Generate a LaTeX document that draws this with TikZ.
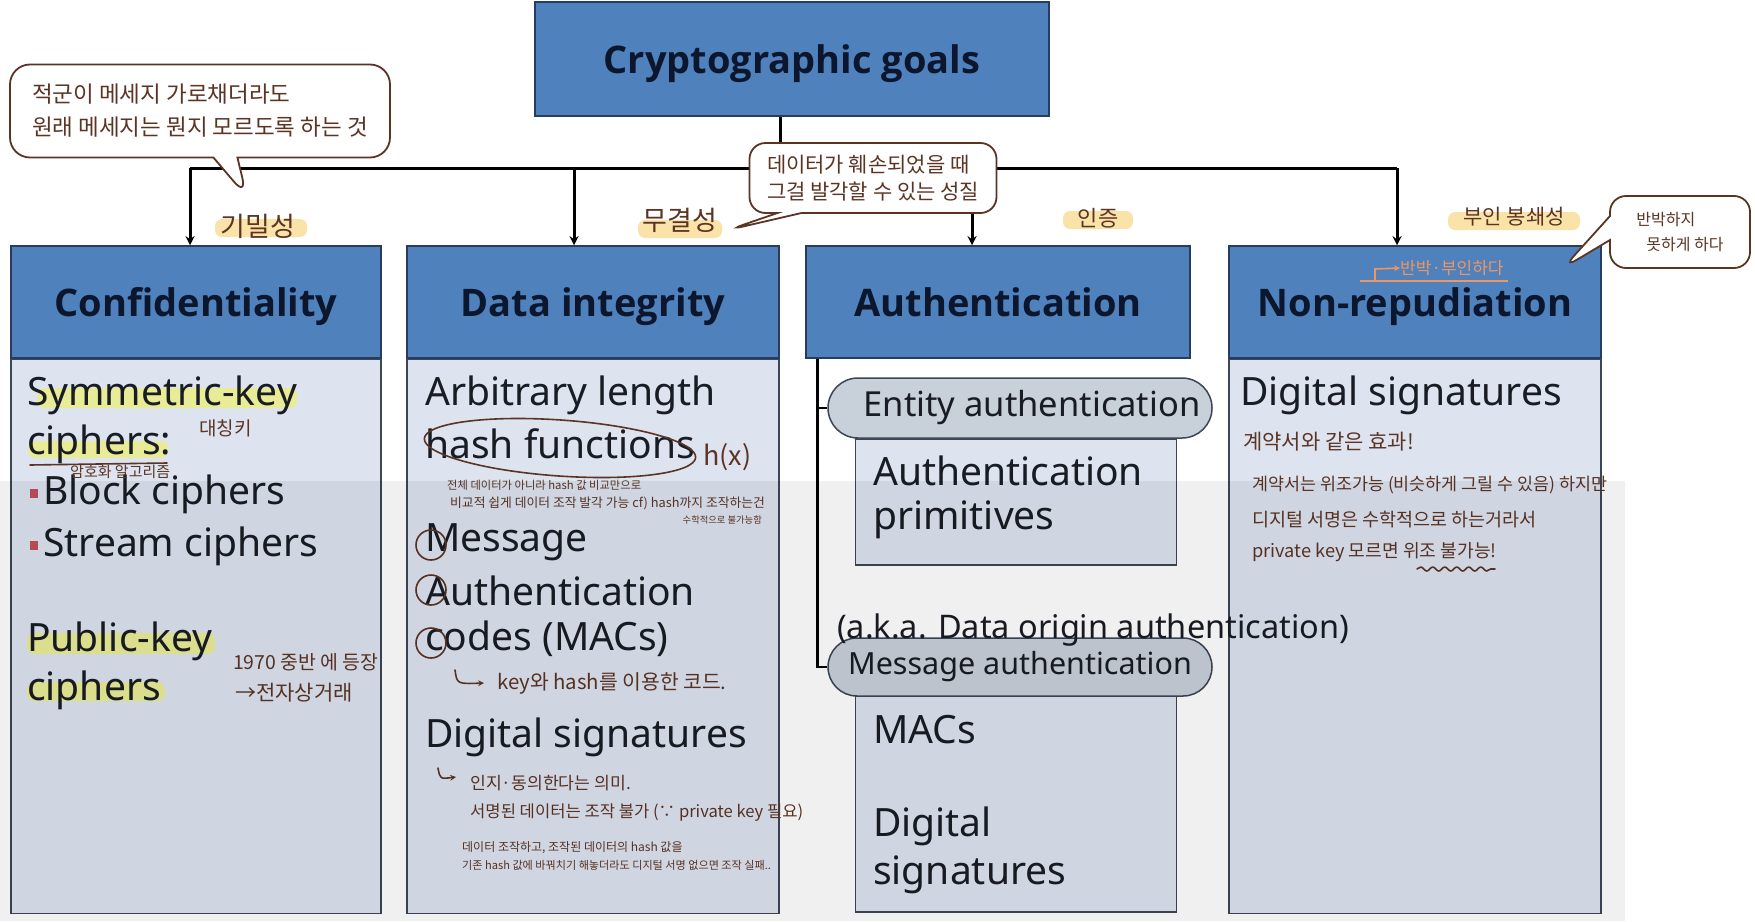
\documentclass[tikz,border=0pt]{standalone}
\usepackage{fontspec}
\setmainfont{Noto Sans}
\newfontfamily\hdrfont{Open Sans}
\newfontfamily\kr{Noto Sans CJK KR}
\usepackage{tikz}
\usetikzlibrary{calc,positioning,shapes.misc,shapes.callouts,decorations.pathmorphing}
\definecolor{hdrblue}{RGB}{79,129,189}
\definecolor{hdrline}{RGB}{40,60,95}
\definecolor{bodyblue}{RGB}{221,228,240}
\definecolor{boxline}{RGB}{60,70,85}
\definecolor{pillgray}{RGB}{200,208,218}
\definecolor{navytext}{RGB}{12,22,45}
\definecolor{bodytext}{RGB}{25,28,35}
\definecolor{inkbrown}{RGB}{92,52,36}
\definecolor{hlyellow}{RGB}{236,240,120}
\definecolor{hlorange}{RGB}{247,218,140}
\definecolor{penorange}{RGB}{236,150,100}
\definecolor{bulletred}{RGB}{192,80,90}

\begin{document}
\begin{tikzpicture}[x=1pt,y=-1pt,>=stealth,
    hdr/.style={draw=hdrline, line width=1.5pt, fill=hdrblue, text=navytext, inner sep=0pt, text height=32pt, text depth=4pt, font=\hdrfont\fontsize{38}{44}\selectfont\bfseries},
    bodybox/.style={draw=boxline, line width=1.5pt, fill=bodyblue, inner sep=0pt},
    pill/.style={rounded rectangle, draw=boxline, line width=1.5pt, fill=pillgray, inner sep=0pt, text=bodytext},
    txt/.style={anchor=west, inner sep=0pt, text=bodytext, font=\fontsize{39}{46}\selectfont},
    ink/.style={anchor=west, inner sep=0pt, text=inkbrown, font=\kr\fontsize{#1}{#1}\selectfont},
    inkpen/.style={draw=inkbrown, line width=1.6pt, line cap=round, line join=round},
    bubble/.style={rectangle callout, draw=inkbrown, line width=1.8pt, fill=white, rounded corners=20pt, callout pointer width=24pt, align=left, text=inkbrown, inner sep=0pt},
    hlband/.style={fill=#1, rounded corners=7pt, opacity=0.75},
    conn/.style={draw=black, line width=3pt}]
  \fill[white] (0,0) rectangle (1755,921);
  \useasboundingbox (0,0) rectangle (1755,921);

  % top box and the four goals
  \node (goals) at (792,59) [hdr, minimum width=514pt, minimum height=114pt] {Cryptographic goals};
  \node (conf) at (196,302) [hdr, minimum width=370pt, minimum height=112pt] {Confidentiality};
  \node (integ) at (593,302) [hdr, minimum width=372pt, minimum height=112pt] {Data integrity};
  \node (auth) at (998,302) [hdr, minimum width=384pt, minimum height=112pt] {Authentication};
  \node (nonrep) at (1415,302) [hdr, minimum width=372pt, minimum height=112pt] {Non-repudiation};
  \node (confbody) [bodybox, below=0pt of conf, minimum width=370pt, minimum height=554pt] {};
  \node (integbody) [bodybox, below=0pt of integ, minimum width=372pt, minimum height=554pt] {};
  \node (nonrepbody) [bodybox, below=0pt of nonrep, minimum width=372pt, minimum height=554pt] {};

  % tree lines
  \coordinate (bus) at (780,168);
  \coordinate (tA) at ([xshift=-6pt]conf.north);
  \coordinate (tB) at ([xshift=-19pt]integ.north);
  \coordinate (tC) at ([xshift=-26pt]auth.north);
  \coordinate (tD) at ([xshift=-18pt]nonrep.north);
  \draw[conn] (bus |- goals.south) -- (bus);
  \draw[conn] (tA |- bus) -- (tD |- bus);
  \foreach \t in {tA,tB,tC,tD}
    \draw[conn,->] (\t |- bus) -- (\t);

  % authentication branches
  \node (primbox) at (1016,502) [bodybox, minimum width=321pt, minimum height=126pt] {};
  \node (macbox) at (1016,804) [bodybox, minimum width=321pt, minimum height=216pt] {};
  \node (entpill) at (1020,408) [pill, minimum width=384pt, minimum height=60pt, font=\fontsize{34.5}{40}\selectfont] {\hspace{24pt}Entity authentication};
  \node (msgpill) at (1020,667) [pill, minimum width=384pt, minimum height=58pt, font=\fontsize{30.5}{36}\selectfont] {Message authentication};
  \coordinate (authstem) at ([xshift=12pt]auth.south west);
  \draw[conn, line width=2.5pt] (authstem) |- (msgpill.west);
  \draw[conn, line width=2.5pt] (authstem |- entpill.west) -- (entpill.west);
  \node (aka) at (837,630) [txt, font=\fontsize{32.5}{38}\selectfont] {(a.k.a. Data origin authentication)};

  % highlights
  \fill[hlband=hlyellow] (37,388) rectangle (297,408);
  \fill[hlband=hlyellow] (28,441) rectangle (168,458);
  \fill[hlband=hlyellow] (27,633) rectangle (215,654);
  \fill[hlband=hlyellow] (27,682) rectangle (165,701);
  \fill[hlband=hlorange] (215,219) rectangle (307,237);
  \fill[hlband=hlorange] (638,220) rectangle (722,238);
  \fill[hlband=hlorange] (1063,211) rectangle (1133,229);
  \fill[hlband=hlorange] (1448,212) rectangle (1580,230);

  % column texts
  \node (symkey) at (27,395) [txt] {Symmetric-key};
  \node (symciph) at (27,444) [txt] {ciphers:};
  \node (block) at (43,494) [txt] {Block ciphers};
  \node (stream) at (43,546) [txt] {Stream ciphers};
  \fill[bulletred] (30,489) rectangle (38,498);
  \fill[bulletred] (30,541) rectangle (38,550);
  \node (pubkey) at (27,641) [txt] {Public-key};
  \node (pubciph) at (27,690) [txt] {ciphers};

  \node (arbit) at (425,395) [txt] {Arbitrary length};
  \node (hashfn) at (425,444) [txt] {hash functions};
  \node (msg) at (425,542) [txt] {Message};
  \node (msgauth) at (425,591) [txt] {Authentication};
  \node (macs) at (425,639) [txt] {codes (MACs)};
  \node (integsig) at (425,737) [txt] {Digital signatures};

  \node (primA) at (873,471) [txt] {Authentication};
  \node (primB) at (873,520) [txt] {primitives};
  \node (macA) at (873,730) [txt] {MACs};
  \node (sigA) at (873,826) [txt] {Digital};
  \node (sigB) at (873,875) [txt] {signatures};

  \node (nrsig) at (1240,395) [txt] {Digital signatures};

  % handwritten notes
  \node (secretnote) at (200,111) [bubble, minimum width=380pt, minimum height=93pt, callout absolute pointer={(247,197)}, font=\kr\fontsize{22.5}{33}\selectfont] {적군이 메세지 가로채더라도\\원래 메세지는 뭔지 모르도록 하는 것};
  \node (integnote) at (873,178) [bubble, minimum width=247pt, minimum height=70pt, rounded corners=16pt, callout absolute pointer={(728,230)}, font=\kr\fontsize{21}{27}\selectfont] {데이터가 훼손되었을 때\\그걸 발각할 수 있는 성질};
  \node (nonrepnote) at (1680,232) [bubble, minimum width=140pt, minimum height=72pt, rounded corners=16pt, callout absolute pointer={(1563,268)}, font=\kr\fontsize{16}{25}\selectfont] {반박하지\\\hspace{10pt}못하게 하다};

  \node (confkr) at (258,226) [ink=27, anchor=center] {기밀성};
  \node (integkr) at (680,220) [ink=27, anchor=center] {무결성};
  \node (authkr) at (1098,218) [ink=22, anchor=center] {인증};
  \node (nonrepkr) at (1514,217) [ink=21, anchor=center] {부인 봉쇄성};

  \node (symkr) at (199,428) [ink=19] {대칭키};
  \draw[inkpen] (30,465) -- (167,463);
  \node (algokr) at (70,472) [ink=15] {암호화 알고리즘};
  \node (pubkr) at (233,662) [ink=19.4] {1970 중반 에 등장};
  \node (ecomkr) at (235,693) [ink=21] {→전자상거래};

  \draw[inkpen, rotate around={-4:(560,448)}] (560,448) ellipse [x radius=136, y radius=28];
  \node (hx) at (703,457) [ink=27] {h(x)};
  \node (hashkrA) at (447,485) [ink=11.3] {전체 데이터가 아니라 hash 값 비교만으로};
  \node (hashkrB) at (450,503) [ink=12.8] {비교적 쉽게 데이터 조작 발각 가능 cf) hash까지 조작하는건};
  \node (hashkrC) at (762,520) [ink=9.3, anchor=east] {수학적으로 불가능함};
  \foreach \y in {545,590,643}
    \draw[inkpen] (431,\y) circle [radius=15];
  \node (keynote) at (497,683) [ink=20.4] {key와 hash를 이용한 코드.};
  \draw[inkpen,->] (455,670) .. controls (457,684) .. (484,683);
  \node (signote) at (470,783) [ink=17.2] {인지·동의한다는 의미.};
  \draw[inkpen,->] (438,768) .. controls (440,779) .. (456,777);
  \node (signoteB) at (470,813) [ink=16.6] {서명된 데이터는 조작 불가 (∵ private key 필요)};
  \node (signoteC) at (462,848) [ink=12] {데이터 조작하고, 조작된 데이터의 hash 값을};
  \node (signoteD) at (462,865) [ink=11.1] {기존 hash 값에 바꿔치기 해놓더라도 디지털 서명 없으면 조작 실패..};

  \node (nrnoteA) at (1243,442) [ink=21] {계약서와 같은 효과!};
  \node (nrnoteB) at (1252,485) [ink=17.4] {계약서는 위조가능 (비슷하게 그릴 수 있음) 하지만};
  \node (nrnoteC) at (1252,520) [ink=18.5] {디지털 서명은 수학적으로 하는거라서};
  \node (nrnoteD) at (1252,552) [ink=18.2] {private key 모르면 위조 불가능!};
  \draw[inkpen, decorate, decoration={snake, amplitude=2pt, segment length=12pt}] (1417,569) -- (1495,569);

  \node (refute) at (1400,268) [ink=17, text=penorange] {반박·부인하다};
  \draw[draw=penorange, line width=1.6pt] (1360,281) -- (1508,281);
  \draw[draw=penorange, line width=1.6pt, ->] (1375,281) -- (1375,269) -- (refute.west);

  % screen shading band
  \fill[black, opacity=0.06] (0,481) rectangle (1625,921);
\end{tikzpicture}
\end{document}
